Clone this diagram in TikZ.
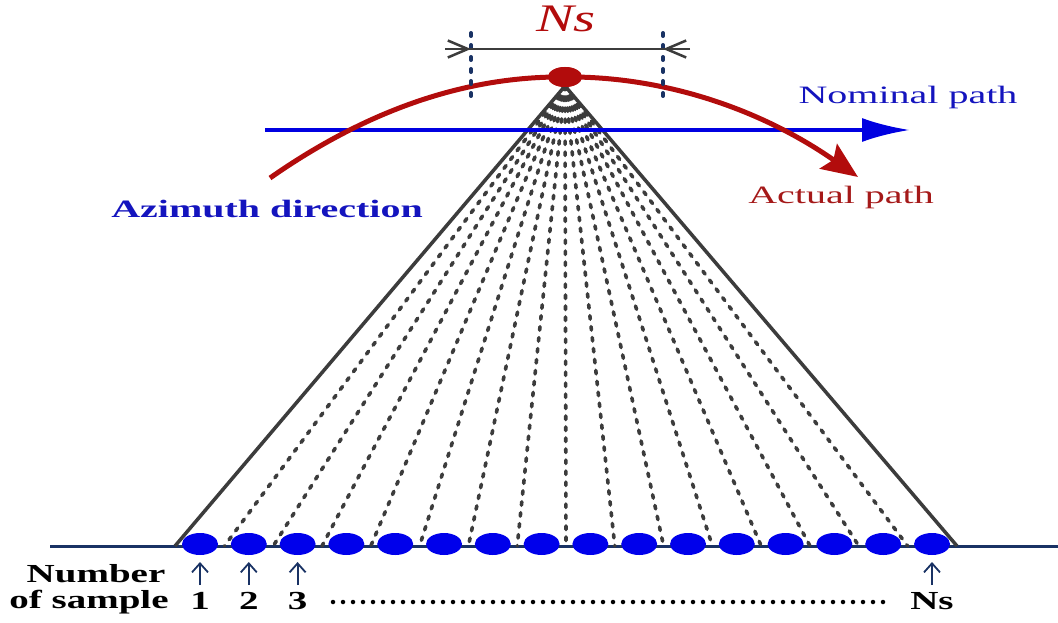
\documentclass[tikz,border=0pt]{standalone}
\usepackage{fontspec}
\setmainfont{Liberation Serif}
\usetikzlibrary{arrows.meta,shapes.geometric,calc}
\definecolor{navy}{RGB}{25,50,100}
\definecolor{sampblue}{RGB}{0,0,235}
\definecolor{pathblue}{RGB}{0,0,225}
\definecolor{txtblue}{RGB}{20,20,190}
\definecolor{darkred}{RGB}{178,12,12}
\definecolor{txtred}{RGB}{165,25,25}
\definecolor{linegray}{RGB}{60,60,60}
\tikzset{
  sample/.style={ellipse, fill=sampblue, draw=none, minimum width=36pt, minimum height=22pt, inner sep=0pt},
  apexnode/.style={ellipse, fill=darkred, draw=none, minimum width=34pt, minimum height=20pt, inner sep=0pt},
  ground/.style={navy, line width=3pt},
  side/.style={linegray, line width=3.5pt},
  ray/.style={linegray, line width=3.6pt, line cap=round, dash pattern=on 3.5pt off 7.5pt},
  nominal/.style={pathblue, line width=4pt, -{Latex[length=48pt,width=24pt]}},
  actual/.style={darkred, line width=5pt, -{Stealth[length=36pt,width=30pt,inset=6pt]}},
  dimline/.style={linegray, line width=2.5pt},
  dimtip/.style={linegray, line width=2.5pt, -{Straight Barb[length=20pt,width=17pt]}},
  marker/.style={navy, line width=4pt, line cap=round, dash pattern=on 3pt off 9pt},
  uparrow/.style={navy, line width=1.8pt, -{Straight Barb[length=9pt,width=16pt]}},
  lbl/.style={inner sep=0pt, anchor=base},
  dots/.style={black, line width=4.5pt, line cap=round, dash pattern=on 0pt off 10pt},
}
\newcommand{\bigtxt}{\fontsize{25}{30}\selectfont}
\newcommand{\sx}[1]{\scalebox{1.6}[1]{#1}}
\begin{document}
\begin{tikzpicture}[x=1pt,y=-1pt]
\useasboundingbox (0,0) rectangle (1058,623);
% ground line
\coordinate (gstart) at (50,546);
\coordinate (gend) at (1058,546);
\draw[ground] (gstart) -- (gend);
% apex
\coordinate (top) at (565,86);
\coordinate (gL) at (175,546);
\coordinate (gR) at (957,546);
\draw[side] (top) -- (gL);
\draw[side] (top) -- (gR);
\foreach \i in {1,...,15} {
  \coordinate (g\i) at ({224.4+48.8*(\i-1)},546);
  \draw[ray] (top) -- (g\i);
}
\foreach \i in {1,...,16} {
  \node[sample] (s\i) at ({200+48.8*(\i-1)},544) {};
}
% nominal path
\coordinate (nA) at (265,130);
\coordinate (nB) at (910,130);
\draw[nominal] (nA) -- (nB);
% actual path
\coordinate (aA) at (270,178);
\coordinate (aB) at (858,177);
\node[apexnode] (apex) at (565,77) {};
\draw[actual] (aA) .. controls (368.3,109.3) and (466.7,76) .. (apex.center)
  .. controls (662.7,76) and (760.3,108.7) .. (aB);
\node[apexnode] at (apex.center) {};
% Ns dimension
\coordinate (m1t) at (471,33);
\coordinate (m1b) at (471,97);
\coordinate (m2t) at (663,33);
\coordinate (m2b) at (663,97);
\draw[marker] (m1t) -- (m1b);
\draw[marker] (m2t) -- (m2b);
\coordinate (dL) at (445,49);
\coordinate (dR) at (690,49);
\coordinate (dL2) at (471,49);
\coordinate (dR2) at (663,49);
\draw[dimline] (dL) -- (dR);
\draw[dimtip] (dL) -- (dL2);
\draw[dimtip] (dR) -- (dR2);
\node[lbl, text=darkred] (nslbl) at (566,32) {\fontsize{39}{44}\selectfont\scalebox{1.45}[1]{\itshape Ns}};
% labels
\node[lbl, text=txtblue] (nomlbl) at (908,104) {\bigtxt\sx{Nominal path}};
\node[lbl, text=txtred] (actlbl) at (841,204) {\bigtxt\sx{Actual path}};
\node[lbl, text=txtblue] (azlbl) at (267,217) {\bigtxt\sx{\bfseries Azimuth direction}};
\node[lbl] (num1) at (96,582) {\fontsize{26}{30}\selectfont\scalebox{1.5}[1]{\bfseries Number}};
\node[lbl] (num2) at (89,608) {\fontsize{26}{30}\selectfont\scalebox{1.5}[1]{\bfseries of sample}};
% sample markers
\foreach \i/\t in {1/1,2/2,3/3,16/Ns} {
  \coordinate (ab\i) at ($(s\i.center)+(0,41)$);
  \coordinate (at\i) at ($(s\i.center)+(0,18)$);
  \draw[uparrow] (ab\i) -- (at\i);
  \node[lbl] (n\i) at ($(s\i.center)+(0,65)$) {\fontsize{26}{30}\selectfont\scalebox{1.5}[1]{\bfseries \t}};
}
\coordinate (dotA) at (333,602);
\coordinate (dotB) at (884,602);
\draw[dots] (dotA) -- (dotB);
\end{tikzpicture}
\end{document}
